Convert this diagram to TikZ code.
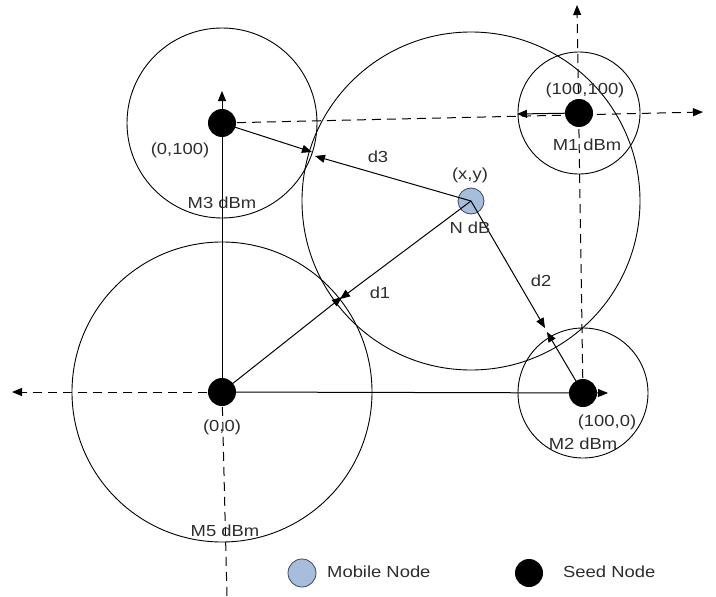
\documentclass[tikz,border=0pt]{standalone}
\usepackage{fontspec}
\setmainfont{Liberation Sans}[FakeStretch=1.15]
\usetikzlibrary{arrows.meta,backgrounds}
\definecolor{mobblue}{RGB}{166,189,220}
\definecolor{mobedge}{RGB}{60,70,90}
\definecolor{ink}{RGB}{45,45,45}
\begin{document}
\begin{tikzpicture}[x=1pt,y=-1pt,
  ring/.style={draw=black, line width=0.9pt},
  axis/.style={draw=black, line width=1pt},
  dashaxis/.style={axis, dash pattern=on 9pt off 6pt},
  tip/.style={-{Triangle[length=10pt,width=8pt]}},
  seed/.style={circle, fill=black, minimum size=28pt, inner sep=0pt},
  mobile/.style={circle, fill=mobblue, draw=mobedge, line width=0.8pt, minimum size=26pt, inner sep=0pt},
  lbl/.style={text=ink, font=\fontsize{16}{18}\selectfont, inner sep=0pt}
]
\useasboundingbox (0,0) rectangle (716,597);

% seed nodes and the mobile node
\node[seed] (s0) at (222,392) {};
\node[seed] (s3) at (222,123) {};
\node[seed] (s1) at (579,113) {};
\node[seed] (s2) at (583,393) {};
\node[mobile] (m) at (471,201) {};

% free ends of the axes and distance arrows
\coordinate (xl) at (12,392);
\coordinate (xr) at (608,393);
\coordinate (yu) at (222,91);
\coordinate (yd) at (227,597);
\coordinate (tr) at (703,112);
\coordinate (tl) at (517,114);
\coordinate (tu) at (577,5);
\coordinate (d3a) at (315,156);
\coordinate (d3b) at (312,152);
\coordinate (d1a) at (340,299);
\coordinate (d1b) at (342,297);
\coordinate (d2a) at (545,328);
\coordinate (d2b) at (547,332);

\begin{scope}[on background layer]
  % signal range circles
  \draw[ring] (m.center) circle[radius=169pt];
  \draw[ring] (s3.center) circle[radius=95pt];
  \draw[ring] (s0.center) circle[radius=150pt];
  \draw[ring] (s1.center) circle[radius=61pt];
  \draw[ring] (s2.center) circle[radius=65pt];
  % axes
  \draw[dashaxis,tip] (s0.center) -- (xl);
  \draw[axis,tip] (s0.center) -- (xr);
  \draw[axis,tip] (s0.center) -- (yu);
  \draw[dashaxis] (s0.center) -- (yd);
  \draw[dashaxis,tip] (s3.center) -- (tr);
  \draw[axis,tip] (s1.center) -- (tl);
  \draw[dashaxis,tip] (s2.center) -- (tu);
  % distance arrows from seed nodes
  \draw[axis,tip] (s3.center) -- (d3b);
  \draw[axis,tip] (s0.center) -- (d1b);
  \draw[axis,tip] (s2.center) -- (d2b);
\end{scope}

% distance arrows from the mobile node
\draw[axis,tip] (m.center) -- (d3a);
\draw[axis,tip] (m.center) -- (d1a);
\draw[axis,tip] (m.center) -- (d2a);

% labels
\node[lbl] (l03) at (180,150) {(0,100)};
\node[lbl] (m3) at (222,203) {M3 dBm};
\node[lbl] (l11) at (585,90) {(100,100)};
\node[lbl] (m1) at (587,145) {M1 dBm};
\node[lbl] (lxy) at (470,175) {(x,y)};
\node[lbl] (ndb) at (470,228) {N dB};
\node[lbl] (t3) at (378,157) {d3};
\node[lbl] (t1) at (380,293) {d1};
\node[lbl] (t2) at (541,281) {d2};
\node[lbl] (l00) at (222,427) {(0,0)};
\node[lbl] (l10) at (607,422) {(100,0)};
\node[lbl] (m2) at (583,444) {M2 dBm};
\node[lbl] (m5) at (225,531) {M5 dBm};

% legend
\node[mobile, minimum size=28pt] (lgm) at (302,573) {};
\node[lbl, anchor=west] (lgmt) at (327,572) {Mobile Node};
\node[seed] (lgs) at (529,573) {};
\node[lbl, anchor=west] (lgst) at (563,572) {Seed Node};
\end{tikzpicture}
\end{document}
